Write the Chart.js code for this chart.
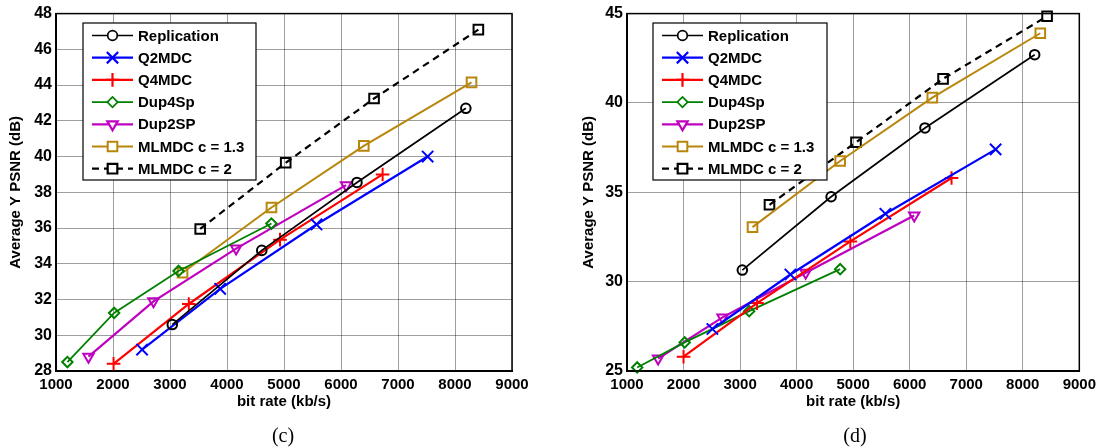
<!DOCTYPE html>
<html>
<head>
<meta charset="utf-8">
<script src="https://cdn.jsdelivr.net/npm/chart.js@4.4.0/dist/chart.umd.min.js"></script>
<style>
  body { margin: 0; background: #fff; width: 1101px; height: 448px; overflow: hidden; position: relative; }
  canvas { position: absolute; top: 0; }
  #chartC { left: 0; }
  #chartD { left: 560px; }
  .cap { position: absolute; top: 424px; width: 100px; text-align: center; line-height: 22px;
         font-family: "Liberation Serif", "Times New Roman", serif; font-size: 20px; color: #000; }
</style>
</head>
<body>
<canvas id="chartC" width="550" height="448"></canvas>
<canvas id="chartD" width="541" height="448"></canvas>
<div class="cap" style="left:233px">(c)</div>
<div class="cap" style="left:805px">(d)</div>
<script>
// legend / series names
const seriesNames = ['Replication', 'Q2MDC', 'Q4MDC', 'Dup4Sp', 'Dup2SP', 'MLMDC c = 1.3', 'MLMDC c = 2'];

// tick labels
const rateTicks = [1000, 2000, 3000, 4000, 5000, 6000, 7000, 8000, 9000];
const psnrTicksC = [28, 30, 32, 34, 36, 38, 40, 42, 44, 46, 48];
const psnrTicksD = [25, 30, 35, 40, 45];

// panel (c): [bit rate kb/s, PSNR dB]
const cReplication = [[3040, 30.6], [4610, 34.75], [6280, 38.55], [8190, 42.7]];
const cQ2MDC       = [[2510, 29.2], [3880, 32.6], [5570, 36.2], [7520, 40.0]];
const cQ4MDC       = [[2010, 28.4], [3330, 31.75], [4930, 35.35], [6730, 39.0]];
const cDup4Sp      = [[1200, 28.5], [2020, 31.25], [3150, 33.6], [4780, 36.25]];
const cDup2SP      = [[1570, 28.8], [2710, 31.9], [4160, 34.85], [6090, 38.4]];
const cMLMDC13     = [[3220, 33.5], [4780, 37.15], [6400, 40.6], [8290, 44.15]];
const cMLMDC2      = [[3530, 35.95], [5030, 39.65], [6580, 43.25], [8410, 47.1]];

// panel (d)
const dReplication = [[3040, 30.65], [4610, 34.75], [6270, 38.6], [8210, 42.7]];
const dQ2MDC       = [[2510, 27.35], [3890, 30.4], [5570, 33.8], [7520, 37.4]];
const dQ4MDC       = [[2000, 25.8], [3300, 28.8], [4950, 32.25], [6740, 35.8]];
const dDup4Sp      = [[1180, 25.2], [2020, 26.6], [3160, 28.35], [4770, 30.7]];
const dDup2SP      = [[1550, 25.7], [2690, 28.0], [4160, 30.5], [6080, 33.7]];
const dMLMDC13     = [[3220, 33.05], [4770, 36.75], [6400, 40.3], [8310, 43.9]];
const dMLMDC2      = [[3520, 34.3], [5050, 37.8], [6590, 41.35], [8430, 44.85]];

const styles = [
  { color: '#000000', point: 'circle',   r: 4.8, rot: 0,   w: 1.7 },
  { color: '#0000ff', point: 'crossRot', r: 8,   rot: 0,   w: 2.2 },
  { color: '#ff0000', point: 'cross',    r: 6.8, rot: 0,   w: 2.2 },
  { color: '#008000', point: 'rectRot',  r: 5.2, rot: 0,   w: 1.8 },
  { color: '#bf00bf', point: 'triangle', r: 6,   rot: 180, w: 2.2 },
  { color: '#b8860b', point: 'rect',     r: 6.8, rot: 0,   w: 2 },
  { color: '#000000', point: 'rect',     r: 6.8, rot: 0,   w: 2.2, dash: [7, 5] }
];

const font = 'Liberation Sans, Arial, sans-serif';

const frameLegend = {
  id: 'frameLegend',
  afterDraw(chart, args, opts) {
    const ctx = chart.ctx, a = chart.chartArea;
    ctx.save();
    ctx.strokeStyle = '#000';
    ctx.lineWidth = 1.5;
    ctx.strokeRect(a.left, a.top, a.right - a.left, a.bottom - a.top);

    const bx = opts.x, by = opts.y;
    ctx.fillStyle = '#fff';
    ctx.fillRect(bx, by, opts.w, opts.h);
    ctx.lineWidth = 1.2;
    ctx.strokeRect(bx, by, opts.w, opts.h);
    ctx.font = 'bold 15px ' + font;
    ctx.textBaseline = 'middle';
    chart.data.datasets.forEach((ds, i) => {
      const y = by + 12.5 + i * 22.2;
      ctx.strokeStyle = ds.borderColor;
      ctx.lineWidth = ds.borderWidth;
      ctx.setLineDash(ds.borderDash || []);
      ctx.beginPath();
      ctx.moveTo(bx + 9, y);
      ctx.lineTo(bx + 50, y);
      ctx.stroke();
      ctx.setLineDash([]);
      ctx.fillStyle = 'rgba(255,255,255,1)';
      Chart.helpers.drawPoint(ctx, {
        pointStyle: ds.pointStyle, radius: ds.pointRadius,
        rotation: ds.pointRotation, borderWidth: ds.pointBorderWidth
      }, bx + 29.5, y);
      ctx.fillStyle = '#000';
      ctx.fillText(ds.label, bx + 55, y + 1);
    });
    ctx.restore();
  }
};

function makeChart(id, series, yTicks, o) {
  const datasets = series.map((pts, i) => {
    const s = styles[i];
    return {
      label: seriesNames[i],
      data: pts.map(p => ({ x: p[0], y: p[1] })),
      showLine: true,
      borderColor: s.color,
      borderWidth: s.w,
      borderDash: s.dash || [],
      pointStyle: s.point,
      pointRadius: s.r,
      pointRotation: s.rot,
      pointBorderColor: s.color,
      pointBorderWidth: 2,
      pointBackgroundColor: 'rgba(0,0,0,0)',
      clip: false
    };
  });
  const grid = { color: 'rgba(0,0,0,0.38)', lineWidth: 1, drawTicks: false };
  const tickFont = { family: font, size: 15, weight: 'bold' };
  const yTickFont = { family: font, size: 16, weight: 'bold' };
  return new Chart(document.getElementById(id), {
    type: 'scatter',
    data: { datasets },
    options: {
      responsive: false,
      animation: false,
      layout: { padding: { top: 13, right: o.padRight, left: 0, bottom: 0 } },
      plugins: {
        legend: { display: false },
        tooltip: { enabled: false },
        frameLegend: o.legend
      },
      scales: {
        x: {
          type: 'linear',
          min: rateTicks[0], max: rateTicks[rateTicks.length - 1],
          afterBuildTicks: s => { s.ticks = rateTicks.map(v => ({ value: v })); },
          afterFit: s => { s.height = 77; },
          grid,
          border: { display: true, color: '#000', width: 2 },
          ticks: { color: '#000', font: tickFont, padding: 5, maxRotation: 0, callback: v => String(v) },
          title: { display: true, text: 'bit rate (kb/s)', color: '#000', font: tickFont, padding: { top: 0, bottom: 37 } }
        },
        y: {
          type: 'linear',
          min: yTicks[0], max: yTicks[yTicks.length - 1],
          afterBuildTicks: s => { s.ticks = yTicks.map(v => ({ value: v })); },
          afterFit: s => { s.width = o.yWidth; },
          grid,
          border: { display: true, color: '#000', width: 2 },
          ticks: { color: '#000', font: yTickFont, padding: 4, callback: v => String(v) },
          title: { display: true, text: 'Average Y PSNR (dB)', color: '#000', font: tickFont, padding: { top: o.titlePad, bottom: 0 } }
        }
      }
    },
    plugins: [frameLegend]
  });
}

makeChart('chartC',
  [cReplication, cQ2MDC, cQ4MDC, cDup4Sp, cDup2SP, cMLMDC13, cMLMDC2],
  psnrTicksC,
  { yWidth: 56, padRight: 38, titlePad: 7, legend: { x: 83, y: 23, w: 173, h: 157 } });

makeChart('chartD',
  [dReplication, dQ2MDC, dQ4MDC, dDup4Sp, dDup2SP, dMLMDC13, dMLMDC2],
  psnrTicksD,
  { yWidth: 67, padRight: 19, titlePad: 20, legend: { x: 93, y: 23, w: 174, h: 157 } });
</script>
</body>
</html>
